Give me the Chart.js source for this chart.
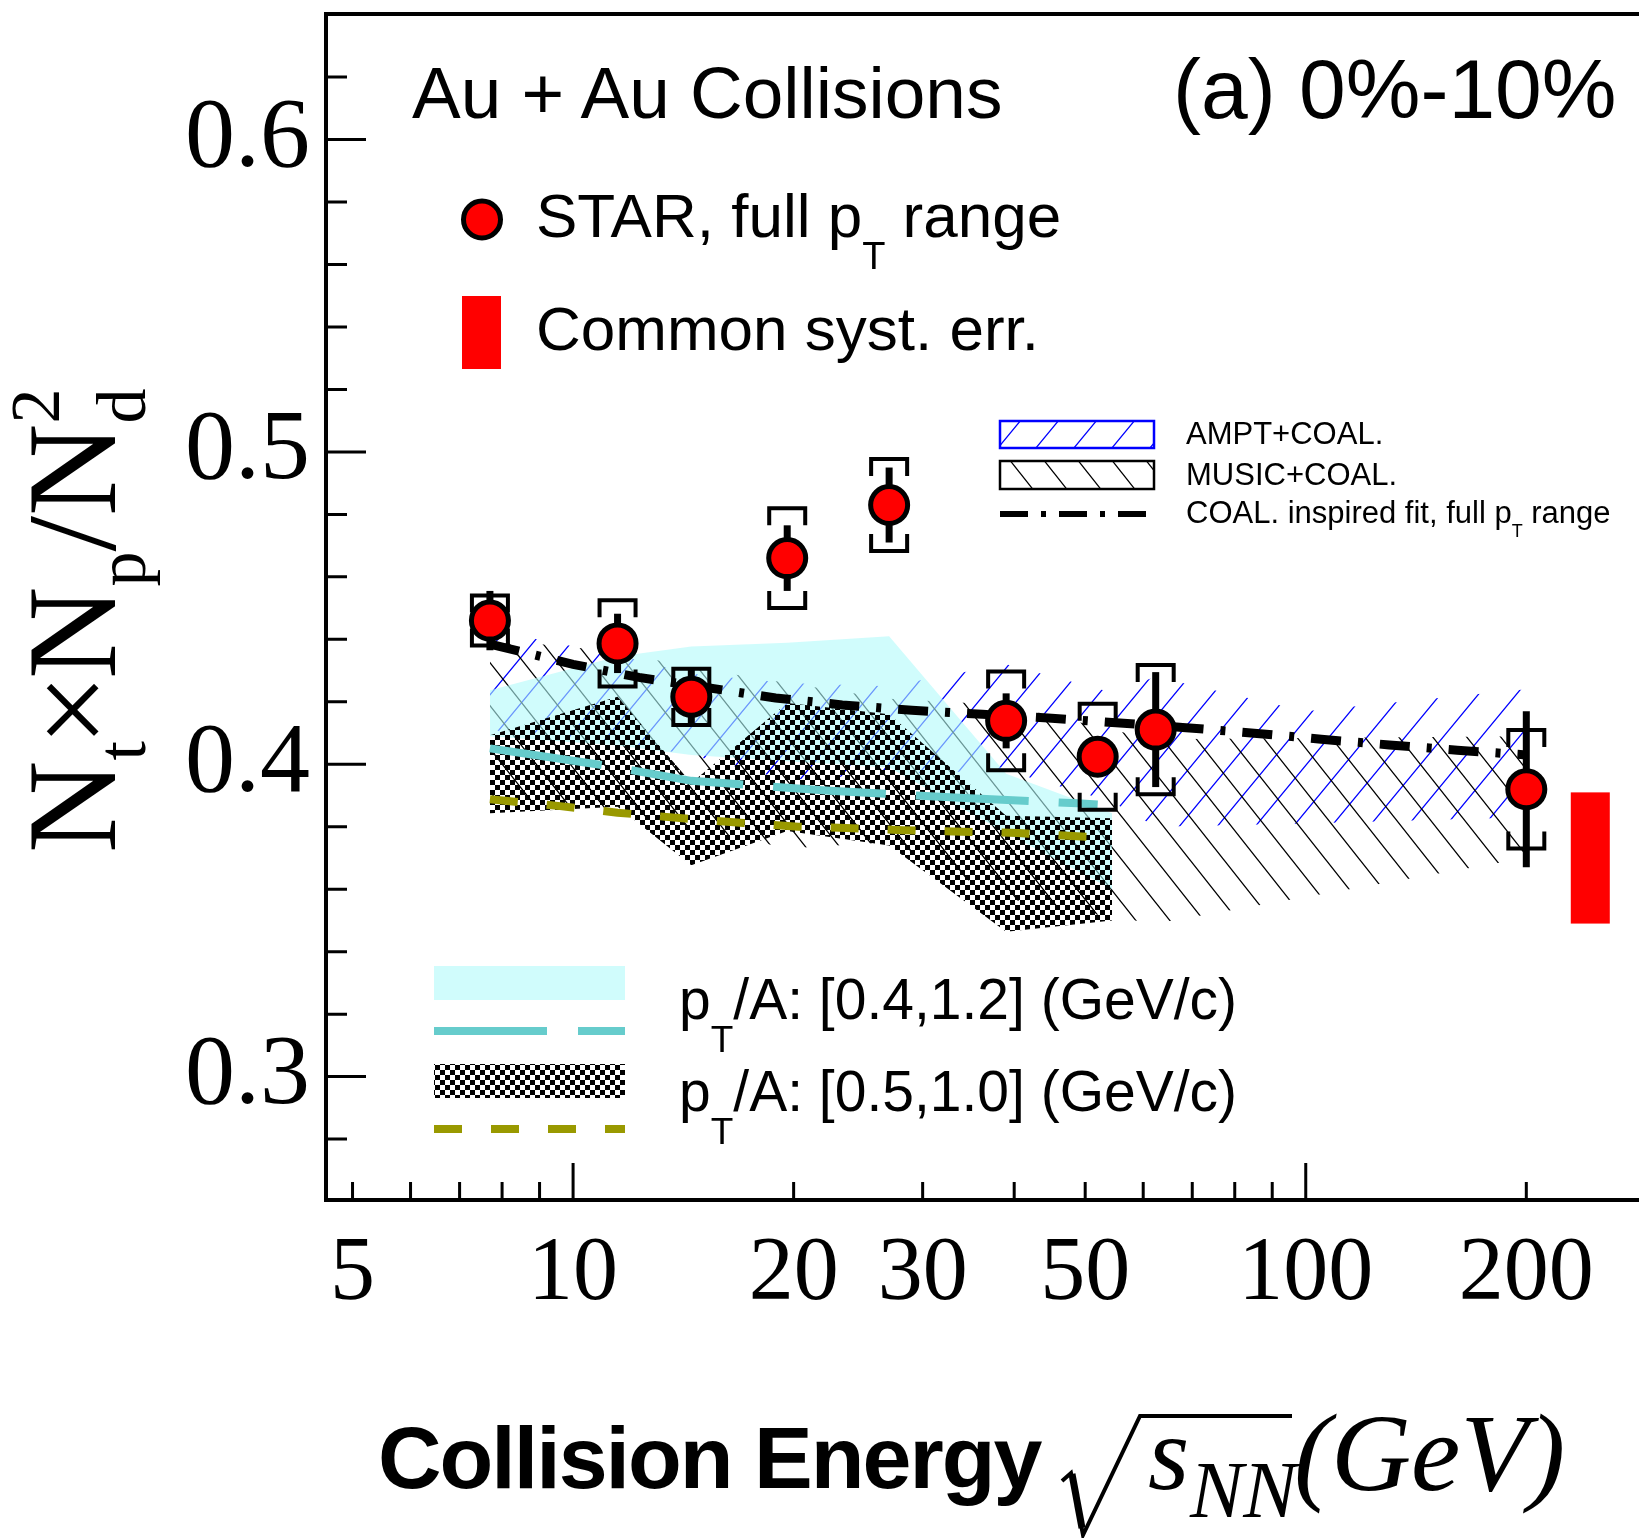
<!DOCTYPE html>
<html>
<head>
<meta charset="utf-8">
<title>Nt x Np / Nd^2 vs collision energy</title>
<script src="https://cdn.jsdelivr.net/npm/chart.js@4.4.1/dist/chart.umd.min.js"></script>
<style>
  html, body { margin: 0; padding: 0; background: #fff; }
  #wrap { position: relative; width: 1639px; height: 1538px; overflow: hidden; }
  #wrap canvas { position: absolute; left: 0; top: 0; }
  .lbl { position: absolute; white-space: nowrap; line-height: 1; color: #000;
         font-family: "Liberation Sans", Arial, Helvetica, sans-serif; }
  .serif { font-family: "Liberation Serif", "Times New Roman", serif; }
  .it { font-style: italic; }
  .sub { position: relative; }
  #ytitle { position: absolute; white-space: nowrap; line-height: 1; font-size: 128px;
            font-family: "Liberation Serif", "Times New Roman", serif;
            transform: rotate(-90deg); transform-origin: 0 0; left: 8px; top: 853px; }
  #ytitle .ys { position: relative; font-size: 70px; top: 30px; }
  #ytitle .yp { position: relative; font-size: 70px; top: -56px; margin-left: -35px; }
  #ytitle .x { margin: 0 -5px; }
</style>
</head>
<body>
<div id="wrap">
  <canvas id="chart" width="1639" height="1538"></canvas>

  <div class="lbl" data-x="412" data-base="118" data-size="73">Au + Au Collisions</div>
  <div class="lbl" data-x="1173" data-base="118" data-size="84">(a) 0%-10%</div>

  <div class="lbl" data-x="536" data-base="237" data-size="62">STAR, full p<span class="sub" style="font-size:38px;top:32px">T</span> range</div>
  <div class="lbl" data-x="536" data-base="350" data-size="62">Common syst. err.</div>

  <div class="lbl" data-x="1186" data-base="444" data-size="31">AMPT+COAL.</div>
  <div class="lbl" data-x="1186" data-base="485" data-size="31">MUSIC+COAL.</div>
  <div class="lbl" data-x="1186" data-base="523" data-size="31">COAL. inspired fit, full p<span class="sub" style="font-size:18px;top:14px">T</span> range</div>

  <div class="lbl" data-x="679" data-base="1019" data-size="57">p<span class="sub" style="font-size:37px;top:33px">T</span>/A: [0.4,1.2] (GeV/c)</div>
  <div class="lbl" data-x="679" data-base="1111" data-size="57">p<span class="sub" style="font-size:37px;top:33px">T</span>/A: [0.5,1.0] (GeV/c)</div>

  <div id="ytitle">N<span class="ys">t</span><span class="x">×</span>N<span class="ys">p</span>/N<span class="ys">d</span><span class="yp">2</span></div>

  <div class="lbl" data-x="378" data-base="1488" data-size="88" style="font-weight:bold;letter-spacing:-2px">Collision Energy</div>
  <div class="lbl serif it" data-x="1148" data-base="1490" data-size="106">s</div>
  <div class="lbl serif it" data-x="1190" data-base="1517" data-size="80">NN</div>
  <div class="lbl serif it" data-x="1294" data-base="1490" data-size="111">(GeV)</div>
</div>

<script>
// ---- STAR data, Au+Au 0-10%  (the 54.4 GeV point is drawn at ~52 in the figure)
var starEnergy = [7.7, 11.5, 14.5, 19.6, 27, 39, 52, 62.4, 200];
var starRatio  = [0.446, 0.4387, 0.4216, 0.466, 0.483, 0.4139, 0.4024, 0.4111, 0.392];
var starStat   = [0.0095, 0.0095, 0.0095, 0.0105, 0.012, 0.0088, 0.004, 0.0184, 0.025];
var starSyst   = [0.008, 0.0138, 0.009, 0.016, 0.0147, 0.0158, 0.017, 0.0207, 0.019];

// common systematic error box (drawn right of 200 GeV)
var commonSystE = [230, 260];
var commonSystY = [0.349, 0.391];

// COAL. inspired fit, full pT range
var fitEnergy = [7.7, 10, 12.3, 16.3, 18.9, 23.3, 29, 36.2, 44.5, 55.1, 67.9, 86.6, 105, 130, 161, 200];
var fitRatio  = [0.4385, 0.432, 0.4278, 0.4235, 0.4212, 0.419, 0.4173, 0.416, 0.4148, 0.4133, 0.4118, 0.4098, 0.408, 0.4062, 0.4045, 0.403];

// AMPT+COAL. band
var amptEnergy = [7.7, 11.5, 14.5, 19.6, 27, 39, 54.4, 62.4, 100, 200];
var amptHigh   = [0.443, 0.435, 0.429, 0.426, 0.425, 0.432, 0.423, 0.428, 0.417, 0.424];
var amptLow    = [0.411, 0.407, 0.403, 0.395, 0.397, 0.398, 0.388, 0.380, 0.381, 0.383];

// MUSIC+COAL. band
var musicEnergy = [7.7, 11.5, 14.5, 19.6, 27, 39, 54.4, 62.4, 200];
var musicHigh   = [0.440, 0.436, 0.431, 0.426, 0.421, 0.419, 0.411, 0.408, 0.409];
var musicLow    = [0.390, 0.385, 0.380, 0.373, 0.375, 0.357, 0.351, 0.349, 0.370];

// pT/A in [0.4,1.2] GeV/c : band + central line
var wideEnergy = [7.7, 11.5, 14.5, 19.6, 27, 39, 54.4];
var wideHigh   = [0.4237, 0.4345, 0.4377, 0.4389, 0.441, 0.397, 0.3843];
var wideLow    = [0.409, 0.406, 0.403, 0.401, 0.399, 0.378, 0.360];
var wideLineE  = [7.7, 11, 14.5, 22.4, 34.8, 48.8, 52];
var wideLineV  = [0.4051, 0.3997, 0.3947, 0.3915, 0.3891, 0.3875, 0.3871];

// pT/A in [0.5,1.0] GeV/c : band + central line
var narrowEnergy = [7.7, 11.5, 14.5, 19.6, 27, 39, 54.4];
var narrowHigh   = [0.4093, 0.4216, 0.394, 0.4196, 0.416, 0.3835, 0.3827];
var narrowLow    = [0.3843, 0.3864, 0.3677, 0.3786, 0.374, 0.3464, 0.350];
var narrowLineE  = [7.7, 9.6, 11.5, 14.1, 17.1, 20.3, 23.6, 28.2, 34, 40.5, 48.1, 54.4];
var narrowLineV  = [0.3888, 0.3866, 0.3845, 0.3827, 0.3812, 0.38, 0.3796, 0.3789, 0.3784, 0.378, 0.377, 0.3765];

// axes
var xMin = 4.6, xMax = 285;
var yMin = 0.2605, yMax = 0.6402;
var xTickValues  = [5, 6, 7, 8, 9, 10, 20, 30, 40, 50, 60, 70, 80, 90, 100, 200];
var xLabelValues = [5, 10, 20, 30, 50, 100, 200];
var xMajor       = [10, 100];
var yTickValues  = [0.28, 0.30, 0.32, 0.34, 0.36, 0.38, 0.40, 0.42, 0.44, 0.46, 0.48, 0.50, 0.52, 0.54, 0.56, 0.58, 0.60, 0.62];
var yLabelValues = [0.3, 0.4, 0.5, 0.6];

var CYAN_FILL = 'rgba(177,250,250,0.6)';
var CYAN_LINE = 'rgb(102,204,204)';
var OLIVE     = 'rgb(153,153,0)';

// place the html labels by their baseline
var labels = document.querySelectorAll('.lbl');
for (var i = 0; i < labels.length; i++) {
    var el = labels[i];
    var size = +el.dataset.size;
    var k = el.classList.contains('serif') ? 0.8375 : 0.8465;
    el.style.fontSize = size + 'px';
    el.style.left = el.dataset.x + 'px';
    el.style.top = (el.dataset.base - k * size) + 'px';
}

var canvas = document.getElementById('chart');
var ctx = canvas.getContext('2d');

function hatch(color, w, h, back, lw) {
    var c = document.createElement('canvas');
    c.width = w; c.height = h;
    var g = c.getContext('2d');
    g.strokeStyle = color;
    g.lineWidth = lw;
    g.beginPath();
    for (var k = -1; k <= 1; k++) {
        if (!back) {
            g.moveTo(k * w - 0.3 * w, h + 0.3 * h);
            g.lineTo(k * w + 1.3 * w, -0.3 * h);
        } else {
            g.moveTo(k * w - 0.3 * w, -0.3 * h);
            g.lineTo(k * w + 1.3 * w, h + 0.3 * h);
        }
    }
    g.stroke();
    return ctx.createPattern(c, 'repeat');
}

function checker(size) {
    var c = document.createElement('canvas');
    c.width = 2 * size; c.height = 2 * size;
    var g = c.getContext('2d');
    g.fillStyle = '#000';
    g.fillRect(0, 0, size, size);
    g.fillRect(size, size, size, size);
    return ctx.createPattern(c, 'repeat');
}

var blueHatch = hatch('#0000ff', 38, 46, false, 1.3);
var blackHatch = hatch('#000000', 34, 43, true, 1.3);
var checkFill = checker(5);

function pts(xs, ys) {
    return xs.map(function (x, i) { return { x: x, y: ys[i] }; });
}

function edge(label, xs, ys, order) {
    return { label: label, data: pts(xs, ys), order: order, borderWidth: 0, borderColor: 'transparent',
             pointRadius: 0, fill: false };
}
function band(label, xs, ys, order, fillStyle) {
    return { label: label, data: pts(xs, ys), order: order, borderWidth: 0, borderColor: 'transparent',
             pointRadius: 0, fill: '-1', backgroundColor: fillStyle };
}

function isIn(list, v) {
    for (var j = 0; j < list.length; j++)
        if (Math.abs(list[j] - v) < 1e-9) return true;
    return false;
}

function drawMarker(c, px, py) {
    c.beginPath();
    c.arc(px, py, 18.5, 0, 2 * Math.PI);
    c.fillStyle = '#ff0000';
    c.fill();
    c.lineWidth = 5;
    c.strokeStyle = '#000';
    c.stroke();
}

var decor = {
    id: 'decor',
    beforeDatasetDraw: function (chart, args) {
        if (chart.data.datasets[args.index].label !== 'STAR') return;
        var c = chart.ctx, x = chart.scales.x, y = chart.scales.y;
        c.save();
        c.strokeStyle = '#000';
        c.lineCap = 'butt';
        c.lineJoin = 'miter';
        for (var i = 0; i < starEnergy.length; i++) {
            var px = x.getPixelForValue(starEnergy[i]);
            var top = y.getPixelForValue(starRatio[i] + starSyst[i]);
            var bot = y.getPixelForValue(starRatio[i] - starSyst[i]);
            c.lineWidth = 4;
            c.beginPath();
            c.moveTo(px - 18, top + 17); c.lineTo(px - 18, top); c.lineTo(px + 18, top); c.lineTo(px + 18, top + 17);
            c.moveTo(px - 18, bot - 17); c.lineTo(px - 18, bot); c.lineTo(px + 18, bot); c.lineTo(px + 18, bot - 17);
            c.stroke();
            c.lineWidth = 7;
            c.beginPath();
            c.moveTo(px, y.getPixelForValue(starRatio[i] + starStat[i]));
            c.lineTo(px, y.getPixelForValue(starRatio[i] - starStat[i]));
            c.stroke();
        }
        c.restore();
    },
    afterDraw: function (chart) {
        var c = chart.ctx, x = chart.scales.x, y = chart.scales.y, a = chart.chartArea;
        c.save();

        // common syst. error box
        var x0 = x.getPixelForValue(commonSystE[0]), x1 = x.getPixelForValue(commonSystE[1]);
        var y0 = y.getPixelForValue(commonSystY[1]), y1 = y.getPixelForValue(commonSystY[0]);
        c.fillStyle = '#ff0000';
        c.fillRect(x0, y0, x1 - x0, y1 - y0);

        // frame
        c.strokeStyle = '#000';
        c.lineWidth = 4;
        c.beginPath();
        c.moveTo(a.right + 4, a.top);
        c.lineTo(a.left, a.top);
        c.lineTo(a.left, a.bottom);
        c.lineTo(a.right + 4, a.bottom);
        c.stroke();

        // tick marks, pointing inside
        c.lineWidth = 3;
        c.beginPath();
        yTickValues.forEach(function (v) {
            var py = y.getPixelForValue(v);
            var len = isIn(yLabelValues, v) ? 40 : 21;
            c.moveTo(a.left, py); c.lineTo(a.left + len, py);
        });
        xTickValues.forEach(function (v) {
            var px = x.getPixelForValue(v);
            var len = isIn(xMajor, v) ? 37 : 18;
            c.moveTo(px, a.bottom); c.lineTo(px, a.bottom - len);
        });
        c.stroke();

        // legend: STAR marker and common syst box
        drawMarker(c, 482, 219.5);
        c.fillStyle = '#ff0000';
        c.fillRect(462, 296, 39, 73);

        // legend: model bands and fit
        c.fillStyle = blueHatch;
        c.fillRect(1000, 421, 154, 27);
        c.strokeStyle = '#0000ff';
        c.lineWidth = 2.5;
        c.strokeRect(1000, 421, 154, 27);
        c.fillStyle = blackHatch;
        c.fillRect(1000, 461, 154, 28);
        c.strokeStyle = '#000';
        c.strokeRect(1000, 461, 154, 28);
        c.lineWidth = 6;
        c.setLineDash([28, 13, 5, 13]);
        c.beginPath(); c.moveTo(1000, 514); c.lineTo(1154, 514); c.stroke();

        // legend: pT/A selections
        c.setLineDash([]);
        c.fillStyle = CYAN_FILL;
        c.fillRect(434, 966, 191, 34);
        c.strokeStyle = CYAN_LINE;
        c.lineWidth = 8;
        c.setLineDash([113, 31]);
        c.beginPath(); c.moveTo(434, 1031); c.lineTo(625, 1031); c.stroke();
        c.fillStyle = checkFill;
        c.fillRect(434, 1064, 191, 34);
        c.strokeStyle = OLIVE;
        c.setLineDash([28, 29]);
        c.beginPath(); c.moveTo(434, 1129); c.lineTo(625, 1129); c.stroke();
        c.setLineDash([]);

        // radical sign of the x title
        c.strokeStyle = '#000';
        c.lineWidth = 4;
        c.lineJoin = 'miter';
        c.beginPath();
        c.moveTo(1062, 1481); c.lineTo(1071, 1473); c.lineTo(1083, 1535);
        c.lineTo(1140, 1416); c.lineTo(1292, 1416);
        c.stroke();
        c.lineWidth = 7;
        c.beginPath(); c.moveTo(1072, 1474); c.lineTo(1082, 1528); c.stroke();

        c.restore();
    }
};

Chart.defaults.font.family = '"Liberation Sans", Arial, sans-serif';

var myChart = new Chart(ctx, {
    type: 'line',
    data: {
        datasets: [
            { label: 'STAR', data: pts(starEnergy, starRatio), order: 0, showLine: false,
              pointRadius: 18.5, pointBorderWidth: 5, pointBackgroundColor: '#ff0000', pointBorderColor: '#000' },
            { label: 'COAL. inspired fit', data: pts(fitEnergy, fitRatio), order: 1, borderColor: '#000',
              borderWidth: 9, borderDash: [30, 17, 5, 17], borderCapStyle: 'butt', pointRadius: 0, fill: false },
            { label: 'pT/A [0.4,1.2] line', data: pts(wideLineE, wideLineV), order: 2, borderColor: CYAN_LINE,
              borderWidth: 8, borderDash: [113, 30], borderCapStyle: 'butt', pointRadius: 0, fill: false },
            { label: 'pT/A [0.5,1.0] line', data: pts(narrowLineE, narrowLineV), order: 2, borderColor: OLIVE,
              borderWidth: 8, borderDash: [28, 29], borderCapStyle: 'butt', pointRadius: 0, fill: false },
            edge('pT/A [0.5,1.0] low', narrowEnergy, narrowLow, 3),
            band('pT/A [0.5,1.0] high', narrowEnergy, narrowHigh, 3, checkFill),
            edge('pT/A [0.4,1.2] low', wideEnergy, wideLow, 4),
            band('pT/A [0.4,1.2] high', wideEnergy, wideHigh, 4, CYAN_FILL),
            edge('MUSIC low', musicEnergy, musicLow, 5),
            band('MUSIC high', musicEnergy, musicHigh, 5, blackHatch),
            edge('AMPT low', amptEnergy, amptLow, 6),
            band('AMPT high', amptEnergy, amptHigh, 6, blueHatch)
        ]
    },
    options: {
        responsive: false,
        animation: false,
        events: [],
        layout: { autoPadding: false, padding: { left: 0, top: 14, right: 0, bottom: 0 } },
        elements: { line: { tension: 0 } },
        plugins: { legend: { display: false }, tooltip: { enabled: false } },
        scales: {
            x: {
                type: 'logarithmic',
                min: xMin,
                max: xMax,
                afterFit: function (s) { s.height = 338; },
                afterBuildTicks: function (s) {
                    // unlabeled ticks at both ends keep the label padding out of the layout
                    s.ticks = [xMin].concat(xTickValues, [xMax]).map(function (v) { return { value: v }; });
                },
                // tick marks are drawn by the plugin; tickLength only offsets the labels
                grid: { display: false, drawTicks: true, tickLength: 30 },
                border: { display: false },
                ticks: {
                    autoSkip: false, maxRotation: 0, minRotation: 0, padding: 0, color: '#000',
                    font: { family: '"Liberation Serif", "Times New Roman", serif', size: 90, lineHeight: 1 },
                    callback: function (v) { return isIn(xLabelValues, v) ? String(v) : ''; }
                }
            },
            y: {
                min: yMin,
                max: yMax,
                afterFit: function (s) { s.width = 326; },
                afterBuildTicks: function (s) {
                    s.ticks = yTickValues.map(function (v) { return { value: v }; });
                },
                grid: { display: false, drawTicks: true, tickLength: 16 },
                border: { display: false },
                ticks: {
                    autoSkip: false, padding: 0, color: '#000',
                    font: { family: '"Liberation Serif", "Times New Roman", serif', size: 100, lineHeight: 0.01 },
                    callback: function (v) { return isIn(yLabelValues, v) ? v.toFixed(1) : ''; }
                }
            }
        }
    },
    plugins: [decor]
});
</script>
</body>
</html>
